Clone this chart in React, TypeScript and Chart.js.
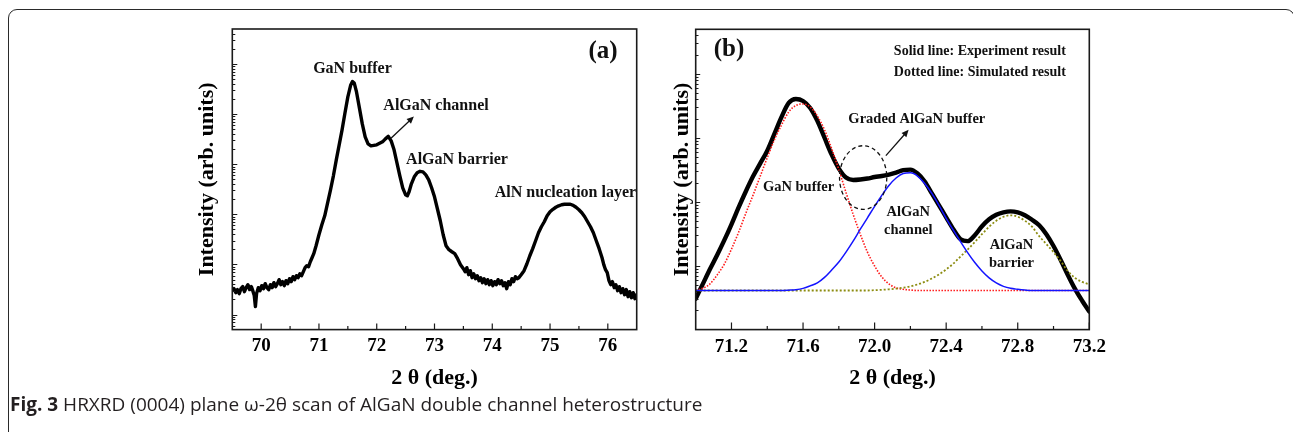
import React, { useEffect, useRef } from "react";
import { Chart, registerables } from "chart.js";

Chart.register(...registerables);

const SERIF = '"Liberation Serif", "Times New Roman", Times, serif';

// ---------------- Panel (a): full HRXRD scan ----------------
const scanA_2theta = [
  69.50, 69.53, 69.56, 69.59, 69.62, 69.65, 69.68, 69.71, 69.74, 69.77,
  69.80, 69.83, 69.86, 69.88, 69.90, 69.92, 69.95, 69.98, 70.01, 70.04,
  70.07, 70.10, 70.13, 70.16, 70.19, 70.22, 70.25, 70.28, 70.31, 70.34,
  70.37, 70.40, 70.43, 70.46, 70.49, 70.52, 70.55, 70.58, 70.61, 70.64,
  70.67, 70.70, 70.73, 70.76, 70.79, 70.82, 70.85, 70.88, 70.91, 70.95,
  71.00, 71.05, 71.10, 71.15, 71.20, 71.25, 71.30, 71.35, 71.40, 71.45,
  71.50, 71.55, 71.58, 71.61, 71.65, 71.70, 71.75, 71.80, 71.85, 71.90,
  71.95, 72.00, 72.05, 72.10, 72.15, 72.20, 72.25, 72.30, 72.35, 72.40,
  72.45, 72.50, 72.53, 72.56, 72.60, 72.65, 72.70, 72.75, 72.80, 72.85,
  72.90, 72.95, 73.00, 73.05, 73.10, 73.15, 73.20, 73.25, 73.30, 73.35,
  73.40, 73.45, 73.50, 73.53, 73.56, 73.59, 73.62, 73.65, 73.68, 73.71,
  73.74, 73.77, 73.80, 73.83, 73.86, 73.89, 73.92, 73.95, 73.98, 74.01,
  74.04, 74.07, 74.10, 74.13, 74.16, 74.19, 74.22, 74.25, 74.28, 74.31,
  74.34, 74.37, 74.40, 74.43, 74.46, 74.50, 74.55, 74.60, 74.65, 74.70,
  74.75, 74.80, 74.85, 74.90, 74.95, 75.00, 75.05, 75.10, 75.15, 75.20,
  75.25, 75.30, 75.35, 75.40, 75.45, 75.50, 75.55, 75.60, 75.65, 75.70,
  75.75, 75.80, 75.85, 75.90, 75.93, 75.96, 75.99, 76.02, 76.05, 76.08,
  76.11, 76.14, 76.17, 76.20, 76.23, 76.26, 76.29, 76.32, 76.35, 76.38,
  76.41, 76.44, 76.47, 76.50,
];
const scanA_intensity = [
  29.9, 32.8, 27.3, 31.4, 26.1, 32.8, 36.0, 28.6, 34.4, 39.4,
  31.4, 36.0, 28.6, 23.8, 14.4, 26.1, 34.4, 29.9, 37.7, 32.8,
  41.3, 34.4, 31.4, 39.4, 34.4, 43.2, 36.0, 41.3, 49.6, 39.4,
  45.3, 37.7, 47.4, 41.3, 51.9, 45.3, 56.9, 49.6, 59.6, 54.4,
  65.3, 59.6, 71.6, 86.1, 94.3, 90.1, 113, 136, 164, 236,
  391, 619, 936, 1700, 3086, 5869, 12230, 24350, 48470, 105700,
  220400, 382200, 449000, 419000, 277200, 133000, 63840, 35160, 25490, 23260,
  23800, 24350, 26080, 27940, 32070, 35980, 29260, 19360, 10660, 5869,
  3384, 2454, 2344, 2816, 4067, 5606, 6736, 7217, 7053, 6145,
  4885, 3384, 2239, 1291, 744, 391, 236, 197, 179, 164,
  130, 98.8, 82.2, 71.6, 86.1, 62.4, 75.0, 54.4, 65.3, 51.9,
  59.6, 47.4, 54.4, 43.2, 51.9, 41.3, 49.6, 39.4, 47.4, 37.7,
  45.3, 39.4, 49.6, 41.3, 47.4, 37.7, 43.2, 32.8, 45.3, 39.4,
  51.9, 45.3, 56.9, 51.9, 54.4, 62.4, 75.0, 103, 149, 206,
  297, 429, 565, 711, 936, 1125, 1261, 1383, 1481, 1551,
  1587, 1601, 1587, 1515, 1383, 1233, 1074, 894, 711, 565,
  429, 297, 206, 136, 98.8, 78.5, 68.4, 47.4, 39.4, 45.3,
  34.4, 39.4, 29.9, 36.0, 27.3, 32.8, 24.9, 31.4, 22.7, 28.6,
  21.7, 27.3, 20.7, 24.9,
];
const xTicksA = [70, 71, 72, 73, 74, 75, 76];
const xTickLabelsA = ["70", "71", "72", "73", "74", "75", "76"];
const xMinorA = [70.5, 71.5, 72.5, 73.5, 74.5, 75.5];

// ---------------- Panel (b): fitted region ----------------
const fitB_2theta = [
  71.00, 71.04, 71.08, 71.12, 71.16, 71.20, 71.24, 71.28,
  71.32, 71.36, 71.40, 71.44, 71.48, 71.52, 71.56, 71.60,
  71.64, 71.68, 71.72, 71.76, 71.80, 71.84, 71.88, 71.92,
  71.96, 72.00, 72.04, 72.08, 72.12, 72.16, 72.20, 72.24,
  72.28, 72.32, 72.36, 72.40, 72.44, 72.48, 72.52, 72.56,
  72.60, 72.64, 72.68, 72.72, 72.76, 72.80, 72.84, 72.88,
  72.92, 72.96, 73.00, 73.04, 73.08, 73.12, 73.16, 73.20,
];
const experimentB = [
  30.4, 51.9, 88.8, 147, 251, 445, 818, 1451,
  2483, 3956, 6301, 11580, 21290, 35150, 40560, 37760,
  29390, 18450, 10040, 5460, 3306, 2396, 2191, 2230,
  2312, 2440, 2529, 2668, 2866, 3134, 3191, 2765,
  2077, 1351, 879, 572, 372, 260, 242, 300,
  414, 532, 626, 684, 709, 684, 615, 523,
  430, 311, 203, 123, 71.7, 43.4, 28.3, 19.1,
];
const ganBufferFit = [
  41.2, 44.2, 51.9, 71.7, 106, 182, 334, 660,
  1258, 2483, 4902, 9343, 15990, 25460, 32140, 33910,
  30460, 22060, 13370, 6769, 3191, 1400, 637, 311,
  163, 98.9, 66.7, 51.9, 45.0, 42.7, 41.6, 40.9,
  40.9, 40.9, 40.9, 40.9, 40.9, 40.9, 40.9, 40.9,
  40.9, 40.9, 40.9, 40.9, 40.9, 40.9, 40.9, 40.9,
  40.9, 40.9, 40.9, 40.9, 40.9, 40.9, 40.9, 40.9,
];
const channelFit = [
  40.9, 40.9, 40.9, 40.9, 40.9, 40.9, 40.9, 40.9,
  40.9, 40.9, 40.9, 40.9, 40.9, 41.4, 42.2, 44.2,
  48.3, 53.8, 65.6, 85.7, 114, 163, 242, 372,
  562, 848, 1258, 1799, 2353, 2765, 2836, 2529,
  1933, 1351, 879, 552, 359, 238, 160, 112,
  82.7, 64.4, 53.8, 47.5, 44.2, 42.7, 41.6, 40.9,
  40.9, 40.9, 40.9, 40.9, 40.9, 40.9, 40.9, 40.9,
];
const barrierFit = [
  40.9, 40.9, 40.9, 40.9, 40.9, 40.9, 40.9, 40.9,
  40.9, 40.9, 40.9, 40.9, 40.9, 40.9, 40.9, 40.9,
  40.9, 40.9, 40.9, 40.9, 40.9, 40.9, 40.9, 40.9,
  40.9, 41.4, 41.9, 42.7, 43.7, 45.3, 47.5, 51.0,
  55.8, 63.2, 73.0, 87.3, 108, 139, 179, 234,
  311, 407, 505, 583, 615, 583, 505, 407,
  290, 218, 163, 118, 82.7, 64.4, 55.8, 51.0,
];
const xTicksB = [71.2, 71.6, 72.0, 72.4, 72.8, 73.2];
const xTickLabelsB = ["71.2", "71.6", "72.0", "72.4", "72.8", "73.2"];
const xMinorB = [71.4, 71.8, 72.2, 72.6, 73.0];

// ---------------- annotations (data coordinates) ----------------
type Label = { text: string; x: number; y: number; size: number; align?: CanvasTextAlign };
type Arrow = { from: [number, number]; to: [number, number] };
type Ell = { x0: number; x1: number; y0: number; y1: number };

const labelsA: Label[] = [
  { text: "(a)", x: 75.918, y: 1.76e6, size: 25 },
  { text: "GaN buffer", x: 71.58, y: 7.85e5, size: 16 },
  { text: "AlGaN channel", x: 73.026, y: 1.46e5, size: 16 },
  { text: "AlGaN barrier", x: 73.389, y: 1.22e4, size: 16 },
  { text: "AlN nucleation layer", x: 75.267, y: 2655, size: 16 },
];
const arrowsA: Arrow[] = [{ from: [72.247, 3.31e4], to: [72.643, 8.93e4] }];

const labelsB: Label[] = [
  { text: "(b)", x: 71.186, y: 2.4e5, size: 25 },
  { text: "Solid line: Experiment result", x: 73.069, y: 2.29e5, size: 14, align: "right" },
  { text: "Dotted line: Simulated result", x: 73.069, y: 1.04e5, size: 14, align: "right" },
  { text: "Graded AlGaN buffer", x: 72.236, y: 1.96e4, size: 14.5 },
  { text: "GaN buffer", x: 71.575, y: 1718, size: 14.5 },
  { text: "AlGaN", x: 72.188, y: 692, size: 14.5 },
  { text: "channel", x: 72.188, y: 363, size: 14.5 },
  { text: "AlGaN", x: 72.765, y: 210, size: 14.5 },
  { text: "barrier", x: 72.765, y: 109, size: 14.5 },
];
const arrowsB: Arrow[] = [{ from: [72.063, 5272], to: [72.19, 1.337e4] }];
const ellipsesB: Ell[] = [{ x0: 71.804, x1: 72.068, y0: 760, y1: 7534 }];

type DecorCfg = {
  xMajor: number[];
  xMinor: number[];
  xMajorLen: number;
  xMinorLen: number;
  yMajorLen: number;
  yMinorLen: number;
  labels: Label[];
  arrows: Arrow[];
  ellipses: Ell[];
};

function decorPlugin(id: string, cfg: DecorCfg) {
  return {
    id,
    afterDatasetsDraw(chart: any) {
      const { ctx, chartArea: a } = chart;
      const xs = chart.scales.x;
      const ys = chart.scales.y;
      ctx.save();
      ctx.strokeStyle = "#1a1a1a";
      ctx.lineWidth = 1.6;
      ctx.strokeRect(a.left, a.top, a.right - a.left, a.bottom - a.top);
      ctx.lineWidth = 1.2;
      ctx.beginPath();
      cfg.xMajor.forEach((v) => {
        const p = xs.getPixelForValue(v);
        ctx.moveTo(p, a.bottom);
        ctx.lineTo(p, a.bottom - cfg.xMajorLen);
      });
      cfg.xMinor.forEach((v) => {
        const p = xs.getPixelForValue(v);
        ctx.moveTo(p, a.bottom);
        ctx.lineTo(p, a.bottom - cfg.xMinorLen);
      });
      const lo = Math.floor(Math.log10(ys.min));
      const hi = Math.ceil(Math.log10(ys.max));
      for (let d = lo; d <= hi; d++) {
        for (let m = 1; m <= 9; m++) {
          const v = m * Math.pow(10, d);
          if (v <= ys.min * 1.0001 || v >= ys.max * 0.9999) continue;
          const p = Math.round(ys.getPixelForValue(v)) + 0.5;
          const len = m === 1 ? cfg.yMajorLen : cfg.yMinorLen;
          ctx.moveTo(a.left, p);
          ctx.lineTo(a.left + len, p);
        }
      }
      ctx.stroke();
      ctx.restore();
    },
    afterDraw(chart: any) {
      const { ctx } = chart;
      const xs = chart.scales.x;
      const ys = chart.scales.y;
      ctx.save();
      ctx.fillStyle = "#111";
      ctx.strokeStyle = "#111";
      ctx.textBaseline = "middle";
      cfg.labels.forEach((l) => {
        ctx.font = `bold ${l.size}px ${SERIF}`;
        ctx.textAlign = l.align || "center";
        ctx.fillText(l.text, xs.getPixelForValue(l.x), ys.getPixelForValue(l.y));
      });
      cfg.arrows.forEach((ar) => {
        const x0 = xs.getPixelForValue(ar.from[0]);
        const y0 = ys.getPixelForValue(ar.from[1]);
        const x1 = xs.getPixelForValue(ar.to[0]);
        const y1 = ys.getPixelForValue(ar.to[1]);
        const ang = Math.atan2(y1 - y0, x1 - x0);
        const hl = 7;
        const hw = 3.2;
        const c = Math.cos(ang);
        const s = Math.sin(ang);
        ctx.lineWidth = 1.3;
        ctx.beginPath();
        ctx.moveTo(x0, y0);
        ctx.lineTo(x1 - hl * 0.8 * c, y1 - hl * 0.8 * s);
        ctx.stroke();
        ctx.beginPath();
        ctx.moveTo(x1, y1);
        ctx.lineTo(x1 - hl * c + hw * s, y1 - hl * s - hw * c);
        ctx.lineTo(x1 - hl * c - hw * s, y1 - hl * s + hw * c);
        ctx.closePath();
        ctx.fill();
      });
      cfg.ellipses.forEach((e) => {
        const x0 = xs.getPixelForValue(e.x0);
        const x1 = xs.getPixelForValue(e.x1);
        const y0 = ys.getPixelForValue(e.y0);
        const y1 = ys.getPixelForValue(e.y1);
        ctx.lineWidth = 1.3;
        ctx.setLineDash([4, 3]);
        ctx.beginPath();
        ctx.ellipse((x0 + x1) / 2, (y0 + y1) / 2, Math.abs(x1 - x0) / 2, Math.abs(y1 - y0) / 2, 0, 0, Math.PI * 2);
        ctx.stroke();
        ctx.setLineDash([]);
      });
      ctx.restore();
    },
  };
}

function points(xs: number[], ys: number[]) {
  return xs.map((x, i) => ({ x, y: ys[i] }));
}

function axisX(min: number, max: number, ticks: number[], labels: string[], tickPad: number, titlePad: number) {
  return {
    type: "linear" as const,
    min,
    max,
    afterBuildTicks: (scale: any) => {
      scale.ticks = ticks.map((v) => ({ value: v }));
    },
    ticks: {
      autoSkip: false,
      maxRotation: 0,
      padding: tickPad,
      color: "#000",
      font: { family: SERIF, weight: "bold" as const, size: 19 },
      callback: (_v: any, i: number) => labels[i],
    },
    grid: { display: false, drawTicks: false },
    border: { display: false },
    title: {
      display: true,
      text: "2 θ (deg.)",
      color: "#000",
      font: { family: SERIF, weight: "bold" as const, size: 22 },
      padding: { top: titlePad, bottom: 0 },
    },
  };
}

function axisY(min: number, max: number, innerPad: number) {
  return {
    type: "logarithmic" as const,
    min,
    max,
    ticks: { display: false },
    grid: { display: false, drawTicks: false },
    border: { display: false },
    title: {
      display: true,
      text: "Intensity (arb. units)",
      color: "#000",
      font: { family: SERIF, weight: "bold" as const, size: 22 },
      padding: { top: 0, bottom: innerPad },
    },
  };
}

export default function App() {
  const refA = useRef<HTMLCanvasElement>(null);
  const refB = useRef<HTMLCanvasElement>(null);

  useEffect(() => {
    const chartA = new Chart(refA.current as HTMLCanvasElement, {
      type: "line",
      data: {
        datasets: [
          {
            data: points(scanA_2theta, scanA_intensity),
            borderColor: "#000",
            borderWidth: 3.4,
            pointRadius: 0,
            tension: 0,
            borderJoinStyle: "round",
            borderCapStyle: "round",
          },
        ],
      },
      options: {
        responsive: false,
        animation: false,
        layout: { autoPadding: false, padding: { left: 194.3, top: 29, right: 656.3, bottom: 40.8 } },
        plugins: { legend: { display: false }, tooltip: { enabled: false } },
        scales: {
          x: axisX(69.5, 76.5, xTicksA, xTickLabelsA, 5.2, 2.0),
          y: axisY(5, 5e6, 11.6),
        },
      } as any,
      plugins: [
        decorPlugin("decorA", {
          xMajor: xTicksA,
          xMinor: xMinorA,
          xMajorLen: 6,
          xMinorLen: 3.5,
          yMajorLen: 5,
          yMinorLen: 3,
          labels: labelsA,
          arrows: arrowsA,
          ellipses: [],
        }),
      ],
    });

    const chartB = new Chart(refB.current as HTMLCanvasElement, {
      type: "line",
      data: {
        datasets: [
          {
            data: points(fitB_2theta, channelFit),
            borderColor: "#1414ff",
            borderWidth: 1.5,
            pointRadius: 0,
            cubicInterpolationMode: "monotone",
          },
          {
            data: points(fitB_2theta, barrierFit),
            borderColor: "#8c8c10",
            borderWidth: 1.8,
            borderDash: [2, 2],
            pointRadius: 0,
            cubicInterpolationMode: "monotone",
          },
          {
            data: points(fitB_2theta, ganBufferFit),
            borderColor: "#ff1a1a",
            borderWidth: 1.6,
            borderDash: [1.5, 1.5],
            pointRadius: 0,
            cubicInterpolationMode: "monotone",
          },
          {
            data: points(fitB_2theta, experimentB),
            borderColor: "#000",
            borderWidth: 4.4,
            pointRadius: 0,
            cubicInterpolationMode: "monotone",
            borderJoinStyle: "round",
            borderCapStyle: "round",
          },
        ],
      },
      options: {
        responsive: false,
        animation: false,
        layout: { autoPadding: false, padding: { left: 669.3, top: 29.3, right: 203.7, bottom: 40.8 } },
        plugins: { legend: { display: false }, tooltip: { enabled: false } },
        scales: {
          x: axisX(71.0, 73.2, xTicksB, xTickLabelsB, 6.2, 0.0),
          y: axisY(10, 5e5, 0),
        },
      } as any,
      plugins: [
        decorPlugin("decorB", {
          xMajor: xTicksB,
          xMinor: xMinorB,
          xMajorLen: 7,
          xMinorLen: 3.5,
          yMajorLen: 4.5,
          yMinorLen: 2.8,
          labels: labelsB,
          arrows: arrowsB,
          ellipses: ellipsesB,
        }),
      ],
    });

    return () => {
      chartA.destroy();
      chartB.destroy();
    };
  }, []);

  const canvasStyle: React.CSSProperties = { position: "absolute", left: 0, top: 0, width: 1293, height: 432 };

  return (
    <div style={{ position: "absolute", left: 0, top: 0, width: 1293, height: 432, overflow: "hidden", background: "#fff" }}>
      <div
        style={{
          position: "absolute",
          left: 8,
          top: 9.3,
          width: 1287,
          height: 470,
          border: "1.5px solid #2a2a2a",
          borderRadius: 9,
          boxSizing: "border-box",
        }}
      />
      <canvas ref={refA} width={1293} height={432} style={canvasStyle} />
      <canvas ref={refB} width={1293} height={432} style={canvasStyle} />
      <div
        style={{
          position: "absolute",
          left: 10,
          top: 394,
          lineHeight: "20px",
          fontFamily: '"Open Sans", "Noto Sans", sans-serif',
          fontSize: 19,
          color: "#231f20",
          whiteSpace: "nowrap",
        }}
      >
        <b>Fig. 3</b> HRXRD (0004) plane ω-2θ scan of AlGaN double channel heterostructure
      </div>
    </div>
  );
}
